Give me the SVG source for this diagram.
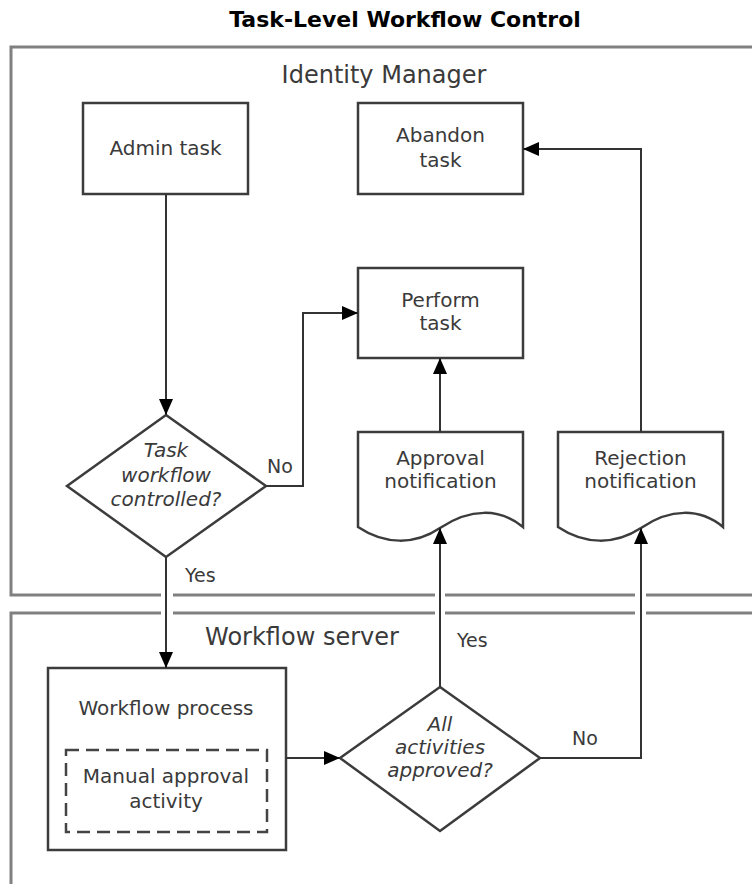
<svg xmlns="http://www.w3.org/2000/svg" width="752" height="884" viewBox="0 0 752 884">
<style>
.t{font-family:"DejaVu Sans","Verdana",sans-serif;font-size:20px;fill:#3a3a3a;text-anchor:middle}
.i{font-style:italic}
.lbl{font-family:"DejaVu Sans","Verdana",sans-serif;font-size:19px;fill:#3a3a3a}
.lane{fill:none;stroke:#808080;stroke-width:3}
.lanetxt{font-family:"DejaVu Sans","Verdana",sans-serif;font-size:24px;fill:#3a3a3a;text-anchor:middle}
.box{fill:#fff;stroke:#3c3c3c;stroke-width:2.5}
.dash{fill:none;stroke:#444;stroke-width:2.5;stroke-dasharray:13 7}
.c{fill:none;stroke:#333;stroke-width:2;marker-end:url(#ah)}
</style>
<defs>
<marker id="ah" markerUnits="userSpaceOnUse" markerWidth="18" markerHeight="14" refX="16" refY="7" orient="auto">
<path d="M0,0 L16,7 L0,14 Z" fill="#000"/>
</marker>
</defs>
<rect width="752" height="884" fill="#fff"/>
<text x="405" y="27" style="font-family:'DejaVu Sans','Verdana',sans-serif;font-size:22px;font-weight:bold;fill:#000;text-anchor:middle">Task-Level Workflow Control</text>

<g id="lane-identity-manager">
<path class="lane" d="M752,47 H11 V595 H161"/>
<path class="lane" d="M173,595 H435"/>
<path class="lane" d="M445,595 H635"/>
<path class="lane" d="M646,595 H752"/>
<text class="lanetxt" x="384" y="83">Identity Manager</text>
</g>
<g id="lane-workflow-server">
<path class="lane" d="M11,884 V613 H161"/>
<path class="lane" d="M173,613 H435"/>
<path class="lane" d="M445,613 H635"/>
<path class="lane" d="M646,613 H752"/>
<text class="lanetxt" x="302" y="645">Workflow server</text>
</g>

<g id="admin-task">
<rect class="box" x="83" y="103" width="165" height="91"/>
<text class="t" x="165.5" y="155">Admin task</text>
</g>
<g id="abandon-task">
<rect class="box" x="358" y="103" width="165" height="91"/>
<text class="t" x="440.5" y="142">Abandon</text>
<text class="t" x="440.5" y="167">task</text>
</g>
<g id="perform-task">
<rect class="box" x="358" y="268" width="165" height="90"/>
<text class="t" x="440.5" y="307">Perform</text>
<text class="t" x="440.5" y="330">task</text>
</g>
<g id="task-workflow-controlled">
<polygon class="box" points="166,415 266,486 166,557 67,486"/>
<text class="t i" x="166" y="457">Task</text>
<text class="t i" x="166" y="482">workflow</text>
<text class="t i" x="166" y="506">controlled?</text>
</g>
<g id="approval-notification">
<path class="box" d="M358,432 H523 V527 C500,508 470,508 440,528 C415,545 385,545 358,527 Z"/>
<text class="t" x="440.5" y="465">Approval</text>
<text class="t" x="440.5" y="488">notification</text>
</g>
<g id="rejection-notification">
<path class="box" d="M558,432 H723 V527 C700,508 670,508 641,528 C615,545 585,545 558,527 Z"/>
<text class="t" x="640.5" y="465">Rejection</text>
<text class="t" x="640.5" y="488">notification</text>
</g>
<g id="workflow-process">
<rect class="box" x="48" y="668" width="238" height="182"/>
<text class="t" x="166" y="715">Workflow process</text>
<rect class="dash" x="66" y="750" width="201" height="82"/>
<text class="t" x="166" y="783">Manual approval</text>
<text class="t" x="166" y="808">activity</text>
</g>
<g id="all-activities-approved">
<polygon class="box" points="440,687 540,758 440,831 340,758"/>
<text class="t i" x="440" y="731">All</text>
<text class="t i" x="440" y="754">activities</text>
<text class="t i" x="440" y="777">approved?</text>
</g>

<g id="connectors">
<path class="c" d="M166,194 V415"/>
<path class="c" d="M266,486 H303 V313 H358"/>
<text class="lbl" x="267" y="473">No</text>
<path class="c" d="M166,557 V668"/>
<text class="lbl" x="185" y="582">Yes</text>
<path class="c" d="M286,758 H340"/>
<path class="c" d="M440,687 V528"/>
<text class="lbl" x="457" y="647">Yes</text>
<path class="c" d="M540,758 H641 V528"/>
<text class="lbl" x="572" y="745">No</text>
<path class="c" d="M440,432 V358"/>
<path class="c" d="M641,432 V149 H523"/>
</g>
</svg>
